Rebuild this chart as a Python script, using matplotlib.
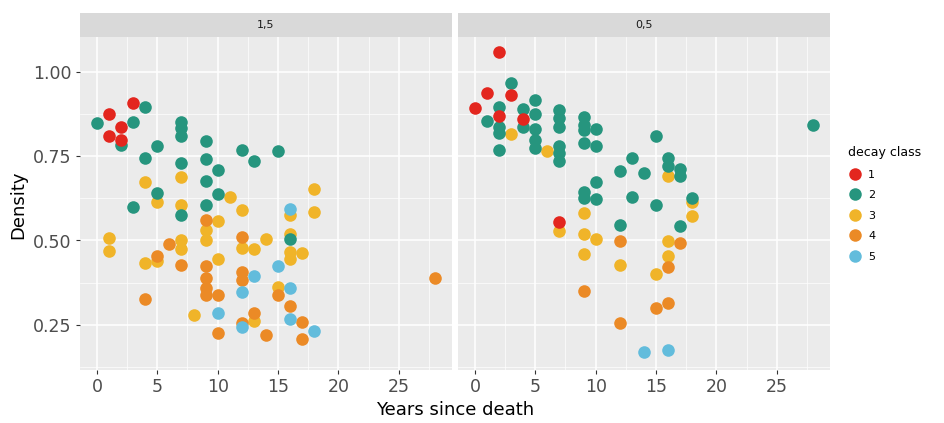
import matplotlib
matplotlib.use("Agg")
import matplotlib.pyplot as plt
from matplotlib.lines import Line2D
import numpy as np

# decay class colours
class_colors = {1: '#E3261E', 2: '#26957E', 3: '#F0B429', 4: '#EB8A26', 5: '#62BCDC'}
panels = ['1,5', '0,5']

# panel "1,5": years since death / density, per decay class
left_x1 = [3, 1, 2, 1, 2]
left_y1 = [0.91, 0.875, 0.838, 0.81, 0.80]
left_x2 = [0, 3, 4, 2, 7, 7, 7, 5, 4, 9, 7, 9, 12, 13, 15, 10, 9, 10, 5, 3, 9, 7, 16]
left_y2 = [0.85, 0.853, 0.896, 0.785, 0.853, 0.833, 0.811, 0.78, 0.746, 0.795, 0.73, 0.743,
           0.77, 0.736, 0.765, 0.71, 0.678, 0.638, 0.64, 0.60, 0.606, 0.575, 0.505]
left_x3 = [4, 7, 11, 5, 7, 12, 16, 10, 9, 9, 1, 1, 7, 7, 4, 5, 10, 12, 13, 14, 16, 16, 16,
           17, 18, 18, 15, 13, 8]
left_y3 = [0.675, 0.688, 0.63, 0.615, 0.607, 0.59, 0.577, 0.557, 0.53, 0.50, 0.507, 0.468,
           0.50, 0.475, 0.433, 0.44, 0.446, 0.477, 0.475, 0.504, 0.52, 0.465, 0.446, 0.462,
           0.654, 0.586, 0.363, 0.26, 0.28]
left_x4 = [9, 6, 5, 7, 9, 9, 9, 9, 10, 4, 12, 12, 12, 10, 13, 12, 15, 16, 17, 17, 14, 28]
left_y4 = [0.56, 0.49, 0.455, 0.426, 0.424, 0.39, 0.358, 0.339, 0.337, 0.326, 0.51, 0.407,
           0.383, 0.226, 0.285, 0.256, 0.337, 0.304, 0.257, 0.208, 0.22, 0.39]
left_x5 = [16, 15, 13, 12, 16, 10, 12, 16, 18]
left_y5 = [0.593, 0.425, 0.395, 0.346, 0.358, 0.285, 0.242, 0.266, 0.23]

# panel "0,5"
right_x1 = [2, 1, 3, 0, 2, 4, 7]
right_y1 = [1.059, 0.938, 0.932, 0.894, 0.869, 0.862, 0.556]
right_x2 = [3, 2, 5, 1, 4, 5, 2, 2, 4, 5, 5, 5, 2, 7, 7, 7, 7, 7, 7, 9, 9, 9, 10, 9, 10,
            13, 12, 14, 10, 9, 9, 10, 13, 12, 15, 16, 16, 17, 17, 15, 18, 17, 28]
right_y2 = [0.969, 0.898, 0.918, 0.856, 0.891, 0.877, 0.838, 0.819, 0.836, 0.83, 0.80,
            0.775, 0.77, 0.887, 0.865, 0.838, 0.782, 0.759, 0.736, 0.867, 0.843, 0.828,
            0.83, 0.79, 0.782, 0.746, 0.708, 0.70, 0.674, 0.644, 0.625, 0.623, 0.63, 0.546,
            0.812, 0.746, 0.722, 0.714, 0.693, 0.605, 0.627, 0.542, 0.843]
right_x3 = [3, 6, 9, 7, 9, 10, 9, 12, 16, 18, 18, 16, 16, 15]
right_y3 = [0.817, 0.765, 0.581, 0.528, 0.518, 0.504, 0.46, 0.426, 0.693, 0.615, 0.572,
            0.499, 0.455, 0.40]
right_x4 = [12, 9, 12, 17, 16, 15, 16]
right_y4 = [0.499, 0.35, 0.255, 0.494, 0.42, 0.30, 0.313]
right_x5 = [14, 16]
right_y5 = [0.17, 0.174]

panel_data = [
    {1: (left_x1, left_y1), 2: (left_x2, left_y2), 3: (left_x3, left_y3),
     4: (left_x4, left_y4), 5: (left_x5, left_y5)},
    {1: (right_x1, right_y1), 2: (right_x2, right_y2), 3: (right_x3, right_y3),
     4: (right_x4, right_y4), 5: (right_x5, right_y5)},
]
draw_order = [3, 4, 5, 2, 1]

fig = plt.figure(figsize=(9.44, 4.23), dpi=100)
W, H = 944, 423
bottom, top = 370, 37
panel_left = [80, 458]
panel_w = 372
strip_h = 24

axes = []
for i, name in enumerate(panels):
    ax = fig.add_axes([panel_left[i] / W, 1 - bottom / H, panel_w / W, (bottom - top) / H])
    ax.set_facecolor('#EBEBEB')
    for s in ax.spines.values():
        s.set_visible(False)
    for cls in draw_order:
        xs, ys = panel_data[i][cls]
        ax.scatter(xs, ys, s=82, color=class_colors[cls], linewidths=0, zorder=3)
    ax.set_xlim(-1.4, 29.4)
    ax.set_ylim(0.115, 1.105)
    ax.set_xticks([0, 5, 10, 15, 20, 25])
    ax.set_xticks(np.arange(2.5, 29, 5), minor=True)
    ax.set_yticks([0.25, 0.50, 0.75, 1.00])
    ax.set_yticks([0.125, 0.375, 0.625, 0.875], minor=True)
    ax.grid(which='major', color='white', lw=1.1, zorder=0)
    ax.grid(which='minor', color='white', lw=0.5, zorder=0)
    ax.set_axisbelow(True)
    ax.tick_params(which='minor', length=0)
    ax.tick_params(which='major', length=3, color='#333333', labelsize=12.5,
                   labelcolor='#4D4D4D', pad=3)
    if i == 0:
        ax.set_yticklabels(['0.25', '0.50', '0.75', '1.00'])
    else:
        ax.tick_params(axis='y', length=0, labelleft=False)
    # facet strip
    sax = fig.add_axes([panel_left[i] / W, 1 - (top) / H, panel_w / W, strip_h / H])
    sax.set_facecolor('#D9D9D9')
    sax.set_xticks([])
    sax.set_yticks([])
    for s in sax.spines.values():
        s.set_visible(False)
    sax.text(0.5, 0.5, name, ha='center', va='center', fontsize=8, color='#1A1A1A',
             transform=sax.transAxes)
    axes.append(ax)

fig.text(18 / W, 1 - 205 / H, 'Density', rotation=90, ha='center', va='center', fontsize=13)
fig.text(455 / W, 1 - 410 / H, 'Years since death', ha='center', va='center', fontsize=13)

handles = [Line2D([], [], marker='o', ls='', markersize=9, markeredgewidth=0,
                  color=class_colors[c], label=str(c)) for c in [1, 2, 3, 4, 5]]
leg = fig.legend(handles=handles, title='decay class', loc='upper left',
                 bbox_to_anchor=(838 / W, 1 - 136 / H), frameon=False, fontsize=8,
                 title_fontsize=9, labelspacing=0.95, handletextpad=0.6, handlelength=1.2)
leg._legend_box.align = 'left'

fig.savefig('out.png', dpi=100)
